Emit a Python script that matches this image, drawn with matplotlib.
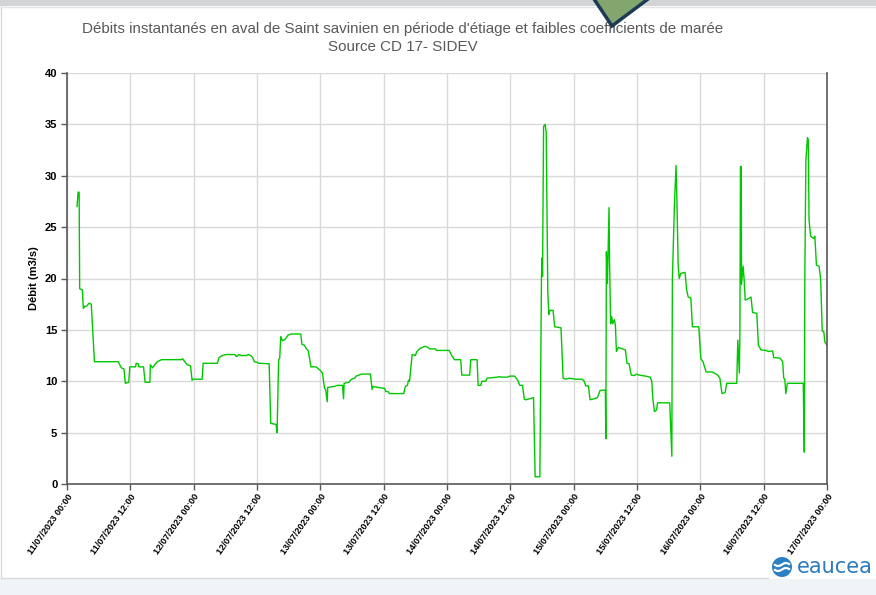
import matplotlib
matplotlib.use("Agg")
import matplotlib.pyplot as plt
import matplotlib.dates as mdates
from matplotlib.patches import Polygon, Rectangle, Circle
from matplotlib.lines import Line2D
import numpy as np
import pandas as pd

plt.rcParams["font.family"] = ["Liberation Sans", "DejaVu Sans"]

# hours since 11/07/2023 00:00 and flow (m3/s)
hours = [1.9, 2.1, 2.3, 2.4, 2.9, 3.1, 3.4, 3.7, 4.2, 4.6, 5.2, 9.7, 10.3, 10.8,
         11.05, 11.7, 11.9, 13.0, 13.1, 13.5, 13.6, 14.5, 14.8, 15.7, 15.8, 16.2,
         16.6, 17.1, 17.9, 21.7, 21.9, 22.3, 22.8, 23.4, 23.7, 23.9, 25.6, 25.8,
         28.5, 28.8, 29.4, 30.1, 31.8, 32.1, 32.6, 33.0, 34.0, 34.3, 34.8, 35.2,
         35.5, 35.9, 36.4, 38.3, 38.6, 39.6, 39.8, 40.1, 40.3, 40.5, 40.8, 41.1,
         41.5, 41.9, 42.5, 44.3, 44.5, 45.0, 45.3, 45.7, 46.0, 46.2, 47.2, 47.9,
         48.4, 48.8, 49.0, 49.3, 49.4, 50.7, 51.2, 52.2, 52.4, 52.5, 53.4, 53.9,
         54.5, 54.8, 55.8, 57.5, 57.8, 58.0, 58.9, 60.2, 60.4, 60.8, 61.1, 63.8,
         64.1, 64.5, 64.7, 64.9, 65.4, 66.0, 66.3, 66.9, 67.8, 68.4, 68.7, 69.8,
         70.0, 72.4, 72.8, 73.4, 74.6, 74.8, 76.3, 76.5, 77.7, 77.9, 78.4, 78.6,
         79.3, 79.6, 81.6, 81.96, 82.3, 83.5, 83.9, 84.8, 85.4, 85.8, 86.3, 86.65,
         87.0, 88.4, 88.7, 89.6, 89.9, 90.0, 90.1, 90.3, 90.6, 90.8, 91.1, 91.3,
         91.5, 92.1, 92.4, 93.6, 94.0, 94.5, 95.1, 96.4, 97.6, 98.0, 98.3, 98.8,
         99.1, 99.9, 100.5, 101.0, 102.0, 102.1, 102.2, 102.4, 102.5, 102.7, 102.8,
         103.0, 103.2, 103.4, 103.7, 103.9, 104.1, 104.5, 104.96, 105.8, 106.1,
         106.5, 106.9, 107.5, 107.9, 108.4, 109.6, 110.5, 110.8, 111.0, 111.3,
         111.7, 111.9, 114.2, 114.6, 114.7, 115.1, 115.4, 115.6, 115.8, 116.0,
         116.3, 117.1, 117.4, 117.7, 118.2, 118.5, 119.7, 120.1, 120.5, 121.1,
         122.3, 123.3, 123.7, 124.1, 124.7, 125.0, 126.9, 127.1, 127.4, 127.5,
         127.6, 127.75, 127.8, 128.1, 128.3, 128.5, 129.0, 129.6, 129.9, 130.7,
         131.0, 131.5, 132.4, 132.9, 133.7, 133.9, 135.1, 135.6, 135.8, 136.0,
         136.2, 136.5, 139.5, 139.7, 139.8, 140.0, 140.3, 140.45, 140.6, 140.9,
         141.5, 141.7, 142.0, 142.5, 142.8, 143.1, 143.4, 143.6, 144.0]
flow = [27.0, 28.4, 28.4, 19.0, 18.9, 17.1, 17.3, 17.3, 17.6, 17.5, 11.9, 11.9, 11.3, 11.2,
        9.8, 9.9, 11.4, 11.4, 11.75, 11.7, 11.4, 11.4, 9.9, 9.9, 11.6, 11.3,
        11.6, 11.9, 12.1, 12.1, 12.2, 11.9, 11.6, 11.5, 10.1, 10.2, 10.2, 11.75,
        11.75, 12.3, 12.5, 12.6, 12.6, 12.4, 12.6, 12.5, 12.5, 12.6, 12.5, 12.3,
        11.9, 11.85, 11.75, 11.7, 5.9, 5.8, 5.0, 12.1, 12.2, 14.35, 13.96, 14.0,
        14.2, 14.5, 14.6, 14.6, 13.6, 13.5, 13.2, 13.0, 12.1, 11.4, 11.4, 11.1,
        10.8, 9.3, 9.2, 8.0, 9.4, 9.5, 9.6, 9.6, 8.3, 9.8, 9.9, 10.2,
        10.3, 10.5, 10.7, 10.7, 9.2, 9.5, 9.4, 9.3, 9.0, 9.0, 8.8, 8.8,
        9.5, 9.6, 10.1, 10.0, 12.6, 12.5, 12.9, 13.2, 13.4, 13.3, 13.15, 13.15,
        13.0, 13.0, 12.6, 12.1, 12.1, 10.6, 10.6, 12.1, 12.1, 9.6, 9.6, 10.0,
        10.0, 10.3, 10.4, 10.45, 10.4, 10.4, 10.5, 10.5, 10.1, 9.6, 9.6, 8.25,
        8.2, 8.4, 0.7, 0.7, 20.2, 22.0, 20.2, 34.8, 35.0, 34.2, 18.6, 16.5,
        16.9, 16.9, 15.3, 15.2, 10.3, 10.2, 10.3, 10.2, 10.2, 10.0, 9.55, 9.55,
        8.2, 8.3, 8.4, 9.1, 9.15, 4.4, 22.6, 19.5, 22.1, 26.9, 21.8,
        15.6, 16.3, 15.6, 16.0, 15.5, 12.9, 13.3, 13.2, 13.05, 11.75,
        11.7, 10.6, 10.55, 10.7, 10.6, 10.5, 10.4, 10.0, 8.3, 7.05,
        7.2, 7.9, 7.9, 2.7, 19.9, 27.3, 31.0, 26.7, 21.3, 20.0,
        20.5, 20.6, 18.9, 18.2, 18.1, 15.3, 15.3, 12.2, 11.9, 10.9,
        10.9, 10.6, 10.3, 8.8, 8.9, 9.8, 9.8, 14.0, 10.8, 15.0,
        30.9, 30.9, 19.4, 21.2, 19.9, 17.9, 18.0, 18.2, 16.7, 16.6,
        13.5, 13.05, 13.0, 12.9, 12.95, 12.3, 12.25, 11.9, 10.3, 10.2,
        8.8, 9.8, 9.8, 3.1, 20.2, 31.6, 33.7, 33.5, 25.7, 24.1,
        23.9, 24.1, 21.3, 21.2, 19.9, 14.9, 14.8, 13.8, 13.5]

start = pd.Timestamp("2023-07-11 00:00")
times = start + pd.to_timedelta(hours, unit="h")

title = "Débits instantanés en aval de Saint savinien en période d'étiage et faibles coefficients de marée\nSource CD 17- SIDEV"

W, H = 876, 595
fig = plt.figure(figsize=(W / 100, H / 100), dpi=100)
fig.patch.set_facecolor("white")

def fx(x):
    return x / W

def fy(y):
    return 1 - y / H

# page background bits
fig.patches.append(Rectangle((0, fy(6)), 1, 6 / H, transform=fig.transFigure,
                             facecolor="#d2d4d6", edgecolor="none", zorder=0))
fig.patches.append(Rectangle((0, 0), 1, fy(579), transform=fig.transFigure,
                             facecolor="#f1f4f7", edgecolor="none", zorder=0))
fig.lines.append(Line2D([fx(1), fx(1)], [fy(6), fy(578)], transform=fig.transFigure,
                        color="#d9d9d9", lw=1))
fig.lines.append(Line2D([fx(1), fx(768)], [fy(578), fy(578)], transform=fig.transFigure,
                        color="#d9d9d9", lw=1))
fig.lines.append(Line2D([fx(1), 1], [fy(6.5), fy(6.5)], transform=fig.transFigure,
                        color="#e4e4e4", lw=1))

# green pentagon tip at the top
fig.patches.append(Polygon([(fx(592), fy(-4)), (fx(612), fy(26)), (fx(652), fy(-4))],
                           closed=True, transform=fig.transFigure, facecolor="#82a66e",
                           edgecolor="#1d3a55", lw=2.5, zorder=5))

ax = fig.add_axes([fx(67), fy(484), fx(827) - fx(67), fy(73) - fy(484)])
ax.plot(times, flow, color="#00c800", lw=1.0)

ax.set_ylim(0, 40)
ax.set_yticks(np.arange(0, 41, 5))
ax.set_xlim(start, start + pd.Timedelta(hours=144))
ax.xaxis.set_major_locator(mdates.HourLocator(byhour=[0, 12]))
ax.xaxis.set_major_formatter(mdates.DateFormatter("%d/%m/%Y %H:%M"))

ax.grid(True, color="#d9d9d9", lw=1)
ax.set_axisbelow(True)
for s in ["left", "bottom", "right"]:
    ax.spines[s].set_color("#595959")
    ax.spines[s].set_linewidth(1.2)
ax.spines["top"].set_visible(False)
ax.tick_params(axis="both", length=4, color="#595959", width=1)
ax.tick_params(axis="y", labelsize=8, pad=3)
ax.tick_params(axis="x", labelsize=6.6, pad=2)
for lab in ax.get_yticklabels():
    lab.set_fontweight("bold")
for lab in ax.get_xticklabels():
    lab.set_fontweight("bold")
    lab.set_rotation(55)
    lab.set_ha("right")
    lab.set_rotation_mode("anchor")

ax.set_ylabel("Débit (m3/s)", fontsize=8, fontweight="bold", labelpad=4)

fig.text(fx(403), fy(38), title, ha="center", va="center", fontsize=10.9,
         color="#595959", linespacing=1.3)

# eaucea logo
cx, cy = 782 / 100, (H - 567) / 100
fig.patches.append(Circle((cx, cy), 0.1, transform=fig.dpi_scale_trans,
                          facecolor="#2c7fc2", edgecolor="none"))
wave_x = np.linspace(cx - 0.07, cx + 0.07, 20)
for dy in (0.025, -0.025):
    fig.lines.append(Line2D(wave_x, cy + dy + 0.015 * np.sin((wave_x - cx) * 40),
                            transform=fig.dpi_scale_trans, color="white", lw=1.6))
fig.text(fx(797), fy(567), "eaucea", ha="left", va="center", fontsize=15,
         color="#2b7bbd", family=["DejaVu Sans"])

fig.savefig("out.png", dpi=100, facecolor=fig.get_facecolor())
